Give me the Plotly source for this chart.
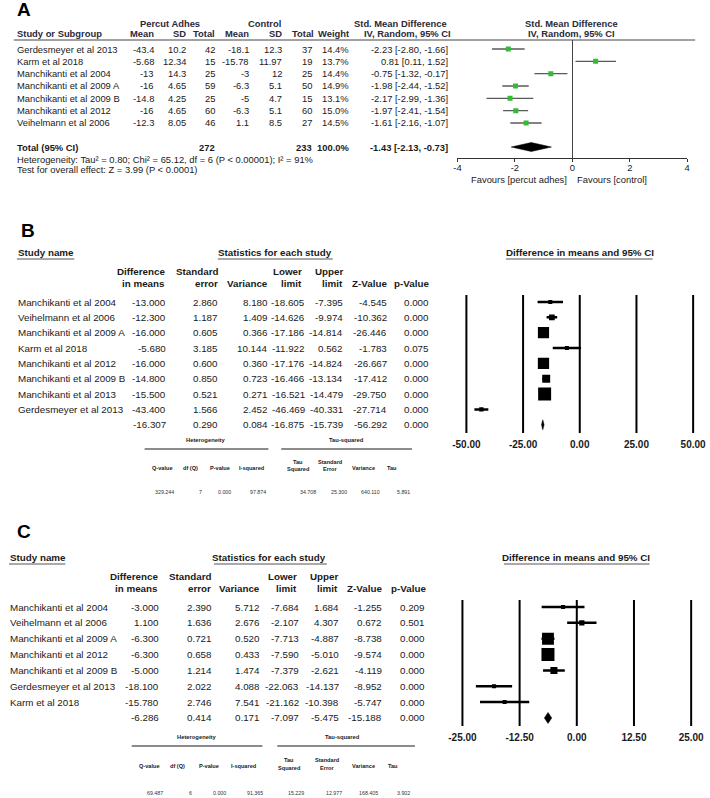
import math
import plotly.graph_objects as go

W, H = 710, 798
FONT = "Liberation Sans, Arial, Helvetica, sans-serif"
INK = "#1a1a1a"
HEAD = "#2a2a3a"

# ---------------- Panel A data ----------------
studies_A = ["Gerdesmeyer et al 2013", "Karm et al 2018", "Manchikanti et al 2004",
             "Manchikanti et al 2009 A", "Manchikanti et al 2009 B", "Manchikanti et al 2012",
             "Veihelmann et al 2006"]
pa_mean = [-43.4, -5.68, -13, -16, -14.8, -16, -12.3]
pa_sd = [10.2, 12.34, 14.3, 4.65, 4.25, 4.65, 8.05]
pa_n = [42, 15, 25, 59, 25, 60, 46]
ct_mean = [-18.1, -15.78, -3, -6.3, -5, -6.3, 1.1]
ct_sd = [12.3, 11.97, 12, 5.1, 4.7, 5.1, 8.5]
ct_n = [37, 19, 25, 50, 15, 60, 27]
weight_A = [14.4, 13.7, 14.4, 14.9, 13.1, 15.0, 14.5]
smd_A = [-2.23, 0.81, -0.75, -1.98, -2.17, -1.97, -1.61]
lo_A = [-2.80, 0.11, -1.32, -2.44, -2.99, -2.41, -2.16]
hi_A = [-1.66, 1.52, -0.17, -1.52, -1.36, -1.54, -1.07]
total_A = {"n_pa": 272, "n_ct": 233, "weight": 100.0, "smd": -1.43, "lo": -2.13, "hi": -0.73}
ticks_A = [-4, -2, 0, 2, 4]

# ---------------- Panel B data ----------------
studies_B = ["Manchikanti et al 2004", "Veihelmann et al 2006", "Manchikanti et al 2009 A",
             "Karm et al 2018", "Manchikanti et al 2012", "Manchikanti et al 2009 B",
             "Manchikanti et al 2013", "Gerdesmeyer et al 2013"]
diff_B = [-13.000, -12.300, -16.000, -5.680, -16.000, -14.800, -15.500, -43.400]
se_B = [2.860, 1.187, 0.605, 3.185, 0.600, 0.850, 0.521, 1.566]
var_B = [8.180, 1.409, 0.366, 10.144, 0.360, 0.723, 0.271, 2.452]
lo_B = [-18.605, -14.626, -17.186, -11.922, -17.176, -16.466, -16.521, -46.469]
hi_B = [-7.395, -9.974, -14.814, 0.562, -14.824, -13.134, -14.479, -40.331]
z_B = [-4.545, -10.362, -26.446, -1.783, -26.667, -17.412, -29.750, -27.714]
p_B = [0.000, 0.000, 0.000, 0.075, 0.000, 0.000, 0.000, 0.000]
summ_B = [-16.307, 0.290, 0.084, -16.875, -15.739, -56.292, 0.000]
het_B = ["329.244", "7", "0.000", "97.874", "34.708", "25.300", "640.110", "5.891"]
ticks_B = [-50, -25, 0, 25, 50]

# ---------------- Panel C data ----------------
studies_C = ["Manchikanti et al 2004", "Veihelmann et al 2006", "Manchikanti et al 2009 A",
             "Manchikanti et al 2012", "Manchikanti et al 2009 B", "Gerdesmeyer et al 2013",
             "Karm et al 2018"]
diff_C = [-3.000, 1.100, -6.300, -6.300, -5.000, -18.100, -15.780]
se_C = [2.390, 1.636, 0.721, 0.658, 1.214, 2.022, 2.746]
var_C = [5.712, 2.676, 0.520, 0.433, 1.474, 4.088, 7.541]
lo_C = [-7.684, -2.107, -7.713, -7.590, -7.379, -22.063, -21.162]
hi_C = [1.684, 4.307, -4.887, -5.010, -2.621, -14.137, -10.398]
z_C = [-1.255, 0.672, -8.738, -9.574, -4.119, -8.952, -5.747]
p_C = [0.209, 0.501, 0.000, 0.000, 0.000, 0.000, 0.000]
summ_C = [-6.286, 0.414, 0.171, -7.097, -5.475, -15.188, 0.000]
het_C = ["69.487", "6", "0.000", "91.365", "15.229", "12.977", "168.405", "3.902"]
ticks_C = [-25, -12.5, 0, 12.5, 25]

het_heads = [("", "Q-value"), ("", "df (Q)"), ("", "P-value"), ("", "I-squared"),
             ("Tau", "Squared"), ("Standard", "Error"), ("", "Variance"), ("", "Tau")]
stat_heads = [("Difference", "in means"), ("Standard", "error"), ("", "Variance"),
              ("Lower", "limit"), ("Upper", "limit"), ("", "Z-Value"), ("", "p-Value")]


def X(px):
    return px / W


def Y(py):
    return 1 - py / H


ann = []
shapes = []


def txt(x, y, s, size=9.4, bold=False, anchor="right", yref="paper", color=INK):
    ann.append(dict(x=X(x), y=(Y(y) if yref == "paper" else y), xref="paper", yref=yref,
                    text=("<b>%s</b>" % s if bold else s), showarrow=False, xanchor=anchor,
                    yanchor="middle", borderpad=0,
                    font=dict(family=FONT, size=size, color=color)))


def hline(x0, x1, y, color="#555", width=1.0):
    shapes.append(dict(type="line", xref="paper", yref="paper", x0=X(x0), x1=X(x1),
                       y0=Y(y), y1=Y(y), line=dict(color=color, width=width)))


def fmt3(v):
    return "%.3f" % v


fig = go.Figure()

# ======================= PANEL A =======================
A0, AP = 49, 12.33           # first row pixel, row pitch
rows_A = list(range(len(studies_A)))
r_tot_A = (147 - A0) / AP
fsA = 9.4

txt(20, 10, "A", size=19, bold=True, anchor="center", color="#000")
txt(168, 23, "Percut Adhes", fsA, True, "center", color=HEAD)
txt(263, 23, "Control", fsA, True, "center", color=HEAD)
txt(400, 23, "Std. Mean Difference", fsA, True, "center", color=HEAD)
txt(573, 23, "Std. Mean Difference", fsA, True, "center", color=HEAD)
txt(12, 34, "Study or Subgroup", fsA, True, "left", color=HEAD)
for s, xr in zip(["Mean", "SD", "Total", "Mean", "SD", "Total", "Weight"],
                 [153, 185, 214, 248, 282, 314, 349]):
    txt(xr, 34, s, fsA, True, "right", color=HEAD)
txt(408, 34, "IV, Random, 95% CI", fsA, True, "center", color=HEAD)
txt(573, 34, "IV, Random, 95% CI", fsA, True, "center", color=HEAD)
hline(10, 698, 40, "#444", 1)

for i, name in enumerate(studies_A):
    r = rows_A[i]
    txt(12, r, name, fsA, False, "left", "y")
    cells = ["%g" % pa_mean[i], "%g" % pa_sd[i], str(pa_n[i]),
             "%g" % ct_mean[i], "%g" % ct_sd[i], str(ct_n[i]), "%.1f%%" % weight_A[i],
             "%.2f [%.2f, %.2f]" % (smd_A[i], lo_A[i], hi_A[i])]
    for c, xr in zip(cells, [153, 185, 214, 248, 282, 312, 349, 449]):
        txt(xr, r, c, fsA, False, "right", "y")

txt(12, r_tot_A, "Total (95% CI)", fsA, True, "left", "y")
txt(214, r_tot_A, str(total_A["n_pa"]), fsA, True, "right", "y")
txt(312, r_tot_A, str(total_A["n_ct"]), fsA, True, "right", "y")
txt(349, r_tot_A, "%.1f%%" % total_A["weight"], fsA, True, "right", "y")
txt(449, r_tot_A, "%.2f [%.2f, %.2f]" % (total_A["smd"], total_A["lo"], total_A["hi"]),
    fsA, True, "right", "y")
txt(12, 159, "Heterogeneity: Tau² = 0.80; Chi² = 65.12, df = 6 (P &lt; 0.00001); I² = 91%",
    fsA, False, "left")
txt(12, 170, "Test for overall effect: Z = 3.99 (P &lt; 0.0001)", fsA, False, "left")
txt(570, 179, "Favours [percut adhes]", fsA, False, "right")
txt(578, 179, "Favours [control]", fsA, False, "left")

fig.add_trace(go.Scatter(
    x=smd_A, y=rows_A, mode="markers", xaxis="x", yaxis="y",
    marker=dict(symbol="square", size=5, color="#33bb33", opacity=1, line=dict(width=0)),
    error_x=dict(type="data", symmetric=False,
                 array=[h - m for h, m in zip(hi_A, smd_A)],
                 arrayminus=[m - l for m, l in zip(smd_A, lo_A)],
                 color="#5a5a5a", thickness=1.3, width=0),
    showlegend=False, hoverinfo="skip"))


def diamond(est, lo, hi, r, h, xa, ya):
    fig.add_trace(go.Scatter(
        x=[lo, est, hi, est, lo], y=[r, r - h, r, r + h, r], mode="lines",
        fill="toself", fillcolor="#000", line=dict(color="#000", width=0.5),
        xaxis=xa, yaxis=ya, showlegend=False, hoverinfo="skip"))


diamond(total_A["smd"], total_A["lo"], total_A["hi"], r_tot_A, 4.5 / AP, "x", "y")

# ======================= PANEL B =======================
B0, BP = 302, 15.35
rows_B = list(range(len(studies_B)))
r_sum_B = len(studies_B)
fsB = 9.8
colsB = [165, 217, 268, 305, 343, 388, 430]
headB = [164, 217, 268, 302, 343, 388, 430]

txt(24, 230, "B", size=19, bold=True, anchor="center", color="#000")
txt(13, 252, "Study name", fsB, True, "left")
hline(13, 71, 259, "#555", 1.2)
txt(274, 252, "Statistics for each study", fsB, True, "center")
hline(216, 332, 259, "#555", 1.2)
txt(582, 252, "Difference in means and 95% CI", fsB, True, "center")
hline(507, 655, 259, "#555", 1.2)
for (l1, l2), xr in zip(stat_heads, headB):
    if l1:
        txt(xr, 271, l1, fsB, True, "right")
    txt(xr, 283, l2, fsB, True, "right")

for i, name in enumerate(studies_B):
    r = rows_B[i]
    txt(13, r, name, fsB, False, "left", "y2")
    cells = [fmt3(diff_B[i]), fmt3(se_B[i]), fmt3(var_B[i]), fmt3(lo_B[i]), fmt3(hi_B[i]),
             fmt3(z_B[i]), fmt3(p_B[i])]
    for c, xr in zip(cells, colsB):
        txt(xr, r, c, fsB, False, "right", "y2")
for c, xr in zip(summ_B, colsB):
    txt(xr, r_sum_B, fmt3(c), fsB, False, "right", "y2")


def het_block(y_title, y_line, y_h1, y_h2, y_val, t1, l1, t2, l2, hx, vx, vals):
    txt(t1, y_title, "Heterogeneity", 5.8, True, "center")
    hline(l1[0], l1[1], y_line, "#666", 1.3)
    txt(t2, y_title, "Tau-squared", 5.8, True, "center")
    hline(l2[0], l2[1], y_line, "#666", 1.3)
    for (a, b), x in zip(het_heads, hx):
        if a:
            txt(x, y_h1, a, 5.6, True, "center")
            txt(x, y_h2, b, 5.6, True, "center")
        else:
            txt(x, (y_h1 + y_h2) / 2 + 2, b, 5.6, True, "center")
    for v, x in zip(vals, vx):
        txt(x, y_val, v, 5.3, False, "center", color="#333")


het_block(440, 449, 462, 469, 492, 204, (142, 267), 346, (280, 412),
          [160, 188, 218, 250, 297, 330, 363, 392],
          [162, 198, 223, 257, 307, 338, 370, 403], het_B)


def box_sizes(var):
    w = [1 / v for v in var]
    wm = max(w)
    return [max(4, 13 * math.sqrt(x / wm)) for x in w]


def vlines(ticks, xa, ya):
    for t in ticks:
        shapes.append(dict(type="line", xref=xa, yref=ya + " domain", x0=t, x1=t,
                           y0=0, y1=1, line=dict(color="#000", width=2), layer="below"))


vlines(ticks_B, "x2", "y2")
fig.add_trace(go.Scatter(
    x=diff_B, y=rows_B, mode="markers", xaxis="x2", yaxis="y2",
    marker=dict(symbol="square", size=box_sizes(var_B), color="#000", opacity=1,
                line=dict(width=0)),
    error_x=dict(type="data", symmetric=False,
                 array=[h - m for h, m in zip(hi_B, diff_B)],
                 arrayminus=[m - l for m, l in zip(diff_B, lo_B)],
                 color="#000", thickness=2.5, width=0),
    showlegend=False, hoverinfo="skip"))
diamond(summ_B[0], summ_B[3], summ_B[4], r_sum_B, 5 / BP, "x2", "y2")

# ======================= PANEL C =======================
C0, CP = 607, 15.85
rows_C = list(range(len(studies_C)))
r_sum_C = len(studies_C)
colsC = [158, 211, 260, 299, 339, 383, 426]
headC = [157, 210, 260, 297, 338, 383, 427]

txt(20, 531, "C", size=19, bold=True, anchor="center", color="#000")
txt(5, 557, "Study name", fsB, True, "left")
hline(5, 62, 564, "#555", 1.2)
txt(268, 557, "Statistics for each study", fsB, True, "center")
hline(212, 326, 564, "#555", 1.2)
txt(578, 557, "Difference in means and 95% CI", fsB, True, "center")
hline(505, 652, 564, "#555", 1.2)
for (l1, l2), xr in zip(stat_heads, headC):
    if l1:
        txt(xr, 576, l1, fsB, True, "right")
    txt(xr, 588, l2, fsB, True, "right")

for i, name in enumerate(studies_C):
    r = rows_C[i]
    txt(5, r, name, fsB, False, "left", "y3")
    cells = [fmt3(diff_C[i]), fmt3(se_C[i]), fmt3(var_C[i]), fmt3(lo_C[i]), fmt3(hi_C[i]),
             fmt3(z_C[i]), fmt3(p_C[i])]
    for c, xr in zip(cells, colsC):
        txt(xr, r, c, fsB, False, "right", "y3")
for c, xr in zip(summ_C, colsC):
    txt(xr, r_sum_C, fmt3(c), fsB, False, "right", "y3")

het_block(737, 746, 760, 768, 793, 194, (129, 261), 342, (276, 415),
          [147, 175, 207, 242, 288, 327, 363, 393],
          [152, 188, 218, 253, 295, 333, 368, 403], het_C)

vlines(ticks_C, "x3", "y3")
fig.add_trace(go.Scatter(
    x=diff_C, y=rows_C, mode="markers", xaxis="x3", yaxis="y3",
    marker=dict(symbol="square", size=box_sizes(var_C), color="#000", opacity=1,
                line=dict(width=0)),
    error_x=dict(type="data", symmetric=False,
                 array=[h - m for h, m in zip(hi_C, diff_C)],
                 arrayminus=[m - l for m, l in zip(diff_C, lo_C)],
                 color="#000", thickness=2.5, width=0),
    showlegend=False, hoverinfo="skip"))
diamond(summ_C[0], summ_C[3], summ_C[4], r_sum_C, 5.5 / CP, "x3", "y3")


# ======================= AXES =======================
def forest_x(dom_px, v_lo, v_hi, px_lo, px_hi, ticks, yname):
    k = (px_hi - px_lo) / (v_hi - v_lo)
    return dict(domain=[X(dom_px[0]), X(dom_px[1])],
                range=[v_lo - (px_lo - dom_px[0]) / k, v_hi + (dom_px[1] - px_hi) / k],
                anchor=yname, tickvals=ticks, ticktext=["%.2f" % t for t in ticks],
                showgrid=False, zeroline=False,
                showline=False, ticks="", ticklabelstandoff=4,
                tickfont=dict(family=FONT, size=10, color=INK, weight="bold"),
                fixedrange=True)


fig.update_layout(
    width=W, height=H, margin=dict(l=0, r=0, t=0, b=0),
    paper_bgcolor="white", plot_bgcolor="rgba(0,0,0,0)", showlegend=False,
    xaxis=dict(domain=[X(458), X(690)], range=[-4, 4], anchor="y",
               showline=True, linecolor="#333", linewidth=1, ticks="outside",
               ticklen=3, tickcolor="#333", tickvals=ticks_A, ticklabelstandoff=-2,
               ticktext=[str(t) for t in ticks_A], showgrid=False, zeroline=True,
               zerolinecolor="#444", zerolinewidth=1, fixedrange=True,
               tickfont=dict(family=FONT, size=fsA, color=INK)),
    yaxis=dict(domain=[Y(158), Y(40)], range=[(158 - A0) / AP, (40 - A0) / AP],
               visible=False, fixedrange=True),
    xaxis2=forest_x((455, 708), -50, 50, 467, 696, ticks_B, "y2"),
    yaxis2=dict(domain=[Y(433), Y(295)], range=[(433 - B0) / BP, (295 - B0) / BP],
                visible=False, fixedrange=True),
    xaxis3=forest_x((451, 706), -25, 25, 463, 694, ticks_C, "y3"),
    yaxis3=dict(domain=[Y(726), Y(600)], range=[(726 - C0) / CP, (600 - C0) / CP],
                visible=False, fixedrange=True),
    annotations=ann, shapes=shapes,
)

fig.write_html("out.html", config={"displayModeBar": False, "staticPlot": True},
               post_script="document.body.style.margin='0';document.body.style.padding='0';")
